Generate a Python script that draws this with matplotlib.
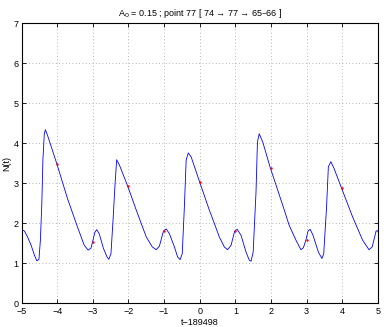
import matplotlib
matplotlib.use("Agg")
import matplotlib.pyplot as plt

plt.rcParams['font.family'] = ['Liberation Sans', 'DejaVu Sans']

# N(t) curve
t = [-5.0, -4.92, -4.83, -4.73, -4.64, -4.57, -4.51, -4.47, -4.43, -4.40, -4.36, -4.33, -4.27,
     -4.01, -3.71, -3.43, -3.24, -3.13, -3.05, -3.01, -2.94, -2.89, -2.82, -2.70, -2.60, -2.55,
     -2.49, -2.43, -2.38, -2.33, -2.25, -2.02, -1.78, -1.50, -1.33, -1.22, -1.13, -1.02, -0.94,
     -0.85, -0.71, -0.62, -0.55, -0.49, -0.43, -0.38, -0.32, -0.24, 0.0, 0.27, 0.36, 0.55, 0.69,
     0.78, 0.88, 0.98, 1.05, 1.16, 1.30, 1.39, 1.44, 1.50, 1.58, 1.62, 1.67, 1.77, 1.98, 2.33,
     2.51, 2.70, 2.84, 2.91, 2.98, 3.04, 3.10, 3.18, 3.33, 3.43, 3.48, 3.56, 3.61, 3.68, 3.77,
     3.98, 4.29, 4.57, 4.75, 4.84, 4.95, 5.0]
N = [1.84, 1.81, 1.66, 1.45, 1.21, 1.06, 1.10, 1.58, 2.49, 3.58, 4.24, 4.34, 4.20,
     3.49, 2.62, 1.91, 1.45, 1.33, 1.38, 1.52, 1.78, 1.84, 1.74, 1.37, 1.16, 1.10,
     1.24, 2.10, 2.91, 3.59, 3.45, 2.93, 2.33, 1.66, 1.41, 1.34, 1.43, 1.80, 1.86,
     1.74, 1.41, 1.16, 1.09, 1.24, 2.41, 3.58, 3.76, 3.66, 3.03, 2.33, 2.12, 1.66, 1.41,
     1.34, 1.45, 1.80, 1.85, 1.70, 1.28, 1.08, 1.05, 1.28, 2.78, 4.03, 4.24, 4.03, 3.39, 2.45,
     1.95, 1.58, 1.34, 1.39, 1.58, 1.81, 1.85, 1.70, 1.28, 1.12, 1.24, 2.41, 3.41, 3.54, 3.37,
     2.88, 2.16, 1.58, 1.34, 1.41, 1.81, 1.81]

# sample points at integer t
t_pts = [-4, -3, -2, -1, 0, 1, 2, 3, 4, 5]
N_pts = [3.48, 1.52, 2.93, 1.80, 3.03, 1.80, 3.39, 1.58, 2.88, 1.81]

fig = plt.figure(figsize=(3.86, 3.27), dpi=100)
ax = fig.add_axes([0.0557, 0.0725, 0.9233, 0.8562])
ax.plot(t, N, color='b', lw=0.6)
ax.plot(t_pts, N_pts, 'r.', ms=3.5, mew=0)

ax.set_xlim(-5, 5)
ax.set_ylim(0, 7)
ax.set_xticks(range(-5, 6))
ax.set_yticks(range(0, 8))
ax.set_xticklabels([str(v).replace('-', '\u2212') for v in range(-5, 6)])
ax.grid(True, ls=(0, (1, 3)), color='#a0a0a0', lw=0.6)
ax.tick_params(direction='in', length=3, width=0.6, labelsize=6.5, top=True, right=True)
ax.tick_params(axis='x', pad=3)
ax.tick_params(axis='y', pad=2)
for s in ax.spines.values():
    s.set_linewidth(0.8)
ax.set_title('A$_0$ = 0.15 ; point 77 [ 74 \u2192 77 \u2192 65\u201366 ]', fontsize=6.5, pad=5)
ax.set_xlabel('t\u2212189498', fontsize=6.5, labelpad=1)
ax.set_ylabel('N(t)', fontsize=6.5, labelpad=2)

fig.savefig('out.png', dpi=100)
